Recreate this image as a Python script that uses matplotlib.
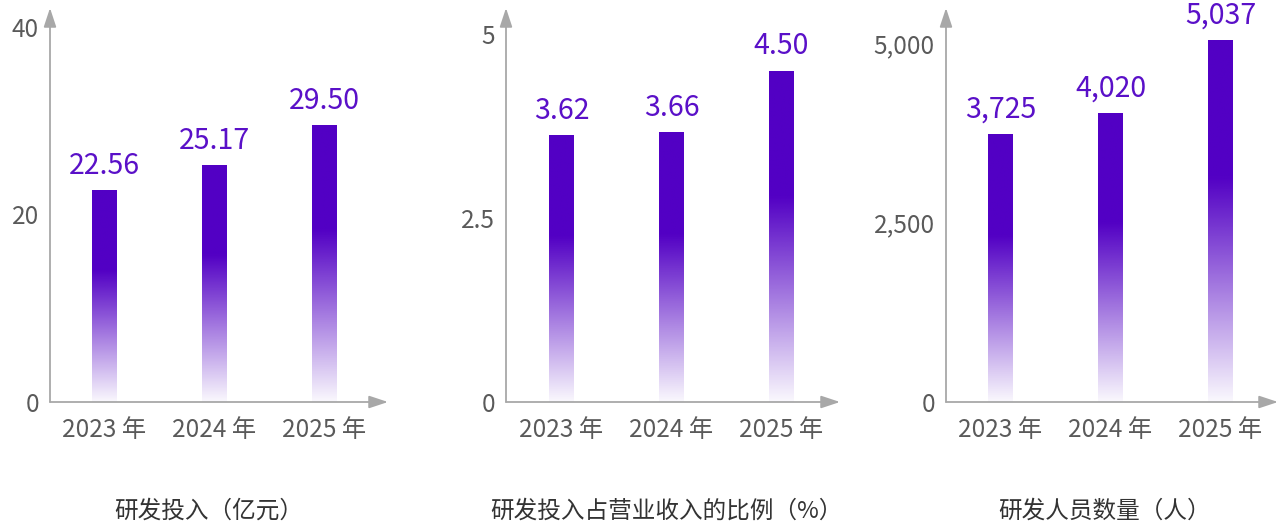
import numpy as np
import matplotlib
matplotlib.use("Agg")
import matplotlib.pyplot as plt
from matplotlib.colors import to_rgb

plt.rcParams['font.family'] = ['Noto Sans CJK SC', 'DejaVu Sans']

# data
years = ["2023 年", "2024 年", "2025 年"]
rd_invest = [22.56, 25.17, 29.50]
rd_ratio = [3.62, 3.66, 4.50]
rd_staff = [3725, 4020, 5037]

invest_labels = ["22.56", "25.17", "29.50"]
ratio_labels = ["3.62", "3.66", "4.50"]
staff_labels = ["3,725", "4,020", "5,037"]

titles = ["研发投入（亿元）", "研发投入占营业收入的比例（%）", "研发人员数量（人）"]

# styling
W, H = 1278, 526
purple = "#5200c4"
label_purple = "#5a10c8"
axis_grey = "#a8a8a8"
text_grey = "#5a5a5a"
spacing = 110.0      # px between bar centres
bar_w = 25 / spacing

fig = plt.figure(figsize=(W / 100, H / 100), dpi=100)


def gradient_bar(ax, x, top):
    # solid purple on the upper part, fading to white toward the base
    n = 256
    t = np.linspace(0, 1, n)
    alpha = np.clip(t / 0.62, 0, 1) * 0.97 + 0.03
    rgb = np.array(to_rgb(purple))
    img = np.ones((n, 1, 4))
    img[:, 0, :3] = rgb
    img[:, 0, 3] = alpha
    ax.imshow(img, origin="lower", aspect="auto",
              extent=[x - bar_w / 2, x + bar_w / 2, 0, top],
              interpolation="bilinear", zorder=2)


def panel(left_px, right_px, first_px, ymax, values, labels,
          yticks, yticklabels, title):
    ax = fig.add_axes([left_px / W, 124 / H, (right_px - left_px) / W, 394 / H])
    x0 = (left_px - first_px) / spacing
    ax.set_xlim(x0, x0 + (right_px - left_px) / spacing)
    ax.set_ylim(0, ymax)
    x = np.arange(len(values))
    bars = ax.bar(x, values, width=bar_w, color="none", zorder=1)
    for b in bars:
        gradient_bar(ax, b.get_x() + b.get_width() / 2, b.get_height())
    for xi, v, s in zip(x, values, labels):
        ax.annotate(s, (xi, v), xytext=(0, 7), textcoords="offset points",
                    ha="center", va="bottom", fontsize=20.5, color=label_purple)
    for sp in ax.spines.values():
        sp.set_visible(False)
    arrow = dict(arrowstyle="-|>,head_length=1.15,head_width=0.38",
                 color=axis_grey, lw=1.3, mutation_scale=10,
                 shrinkA=0, shrinkB=0)
    ax.annotate("", xy=(1, 0), xytext=(0, 0), xycoords="axes fraction",
                arrowprops=arrow, annotation_clip=False)
    ax.annotate("", xy=(0, 1), xytext=(0, 0), xycoords="axes fraction",
                arrowprops=arrow, annotation_clip=False)
    ax.set_xticks(x)
    ax.set_xticklabels(years)
    ax.set_yticks(yticks)
    ax.set_yticklabels(yticklabels)
    ax.tick_params(axis="x", length=0, pad=11, labelsize=17.5, labelcolor=text_grey)
    ax.tick_params(axis="y", length=0, pad=8, labelsize=17.5, labelcolor=text_grey)
    ax.text(0.95, -0.278, title, transform=ax.get_xaxis_transform(),
            ha="center", va="center", fontsize=17, color="#333333")
    return ax


panel(50, 388, 104.5, 42.0, rd_invest, invest_labels,
      [0, 20, 40], ["0", "20", "40"], titles[0])
panel(506, 840, 561.5, 5.36, rd_ratio, ratio_labels,
      [0, 2.5, 5], ["0", "2.5", "5"], titles[1])
panel(946, 1278, 1000.5, 5490, rd_staff, staff_labels,
      [0, 2500, 5000], ["0", "2,500", "5,000"], titles[2])

fig.savefig("out.png", dpi=100)
